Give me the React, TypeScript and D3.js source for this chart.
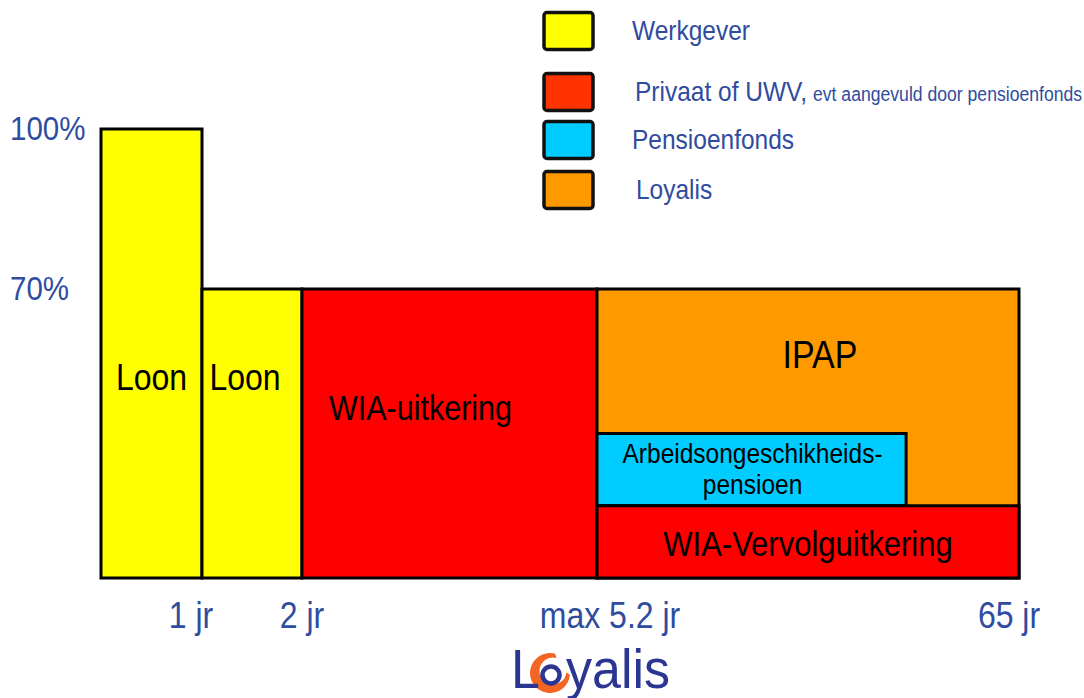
import React from "react";
import * as d3 from "d3";

// ---- data ----
const segLabels = ["Loon", "Loon", "WIA-uitkering", "IPAP", "Arbeidsongeschikheids-|pensioen", "WIA-Vervolguitkering"];
const segStart = [0, 1, 2, 5.2, 5.2, 5.2];
const segEnd = [1, 2, 5.2, 65, 49, 65];
const segLow = [0, 0, 0, 0, 17.5, 0];
const segHigh = [100, 70, 70, 70, 35, 17.5];
const segSource = ["Werkgever", "Werkgever", "Privaat", "Loyalis", "Pensioenfonds", "Privaat"];

const sources = ["Werkgever", "Privaat", "Pensioenfonds", "Loyalis"];
const sourceLabels = ["Werkgever", "Privaat of UWV,", "Pensioenfonds", "Loyalis"];
const sourceNote = ["", "evt aangevuld door pensioenfonds", "", ""];

const yTicks = [100, 70];
const yTickLabels = ["100%", "70%"];
const xTicks = [1, 2, 5.2, 65];
const xTickLabels = ["1 jr", "2 jr", "max 5.2 jr", "65 jr"];

// ---- styles / layout ----
const FONT = "'Liberation Sans', Arial, Helvetica, sans-serif";
const BLUE = "#2f4c9e";
const NAVY = "#2b3592";
const chartFill: Record<string, string> = {
  Werkgever: "#ffff00",
  Privaat: "#ff0000",
  Pensioenfonds: "#00ccff",
  Loyalis: "#ff9900",
};
const legendFill: Record<string, string> = {
  Werkgever: "#ffff00",
  Privaat: "#ff3300",
  Pensioenfonds: "#00ccff",
  Loyalis: "#ff9900",
};
// label placement per segment: horizontal offset from segment centre, baseline y (px), font size
const labelLayout = [
  { dx: 0, y: 390, size: 32 },
  { dx: -7, y: 390, size: 32 },
  { dx: -29, y: 420, size: 30.5 },
  { dx: 12, y: 368, size: 34 },
  { dx: 1, y: 463, size: 24.5, lineGap: 31 },
  { dx: 0, y: 556, size: 31 },
];
const legendRowY = [31, 92, 140, 190];
const legendTextX = [632, 635, 632, 636];
const xLabelDx = [-11, 0, 13, -10];
const SY = 1.14;

export default function App() {
  const x = d3.scaleLinear().domain([0, 1, 2, 5.2, 65]).range([101, 202, 302, 597, 1019]);
  const y = d3.scaleLinear().domain([0, 70, 100]).range([578, 289, 129]);

  const T = (props: {
    x: number;
    y: number;
    size: number;
    fill: string;
    anchor?: string;
    children: React.ReactNode;
  }) => (
    <text
      transform={`translate(${props.x},${props.y}) scale(1,${SY})`}
      fontSize={props.size}
      fill={props.fill}
      textAnchor={props.anchor || "start"}
      fontFamily={FONT}
    >
      {props.children}
    </text>
  );

  // Loyalis logo swirl
  const cx = 550, cy = 673;
  const rad = (a: number) => (a * Math.PI) / 180;
  const ro = 20, ri = 13.5, icx = 553, icy = 671;
  const a1 = -75, a2 = 5;
  const p = d3.path();
  p.moveTo(cx + ro * Math.cos(rad(a1)), cy + ro * Math.sin(rad(a1)));
  p.arc(cx, cy, ro, rad(a1), rad(a2), true);
  p.lineTo(icx + ri * Math.cos(rad(a2)), icy + ri * Math.sin(rad(a2)));
  p.arc(icx, icy, ri, rad(a2), rad(a1), false);
  p.closePath();

  return (
    <svg
      width={1084}
      height={698}
      style={{ position: "absolute", left: 0, top: 0, background: "#fff" }}
      fontFamily={FONT}
    >
      {/* segments */}
      {segLabels.map((lab, i) => (
        <rect
          key={"r" + i}
          x={x(segStart[i])}
          y={y(segHigh[i])}
          width={x(segEnd[i]) - x(segStart[i])}
          height={y(segLow[i]) - y(segHigh[i])}
          fill={chartFill[segSource[i]]}
          stroke="#000"
          strokeWidth={3}
        />
      ))}
      {segLabels.map((lab, i) => {
        const L = labelLayout[i];
        const mid = (x(segStart[i]) + x(segEnd[i])) / 2 + L.dx;
        const lines = lab.split("|");
        return lines.map((ln, j) => (
          <T key={"l" + i + "_" + j} x={mid} y={L.y + j * (L.lineGap || 0)} size={L.size} fill="#000" anchor="middle">
            {ln}
          </T>
        ));
      })}

      {/* y labels */}
      {yTicks.map((v, i) => (
        <T key={"y" + i} x={10} y={y(v) + 11} size={29.5} fill={BLUE}>
          {yTickLabels[i]}
        </T>
      ))}
      {/* x labels */}
      {xTicks.map((v, i) => (
        <T key={"x" + i} x={x(v) + xLabelDx[i]} y={628} size={32} fill={BLUE} anchor="middle">
          {xTickLabels[i]}
        </T>
      ))}

      {/* legend */}
      {sources.map((s, i) => (
        <g key={"lg" + i}>
          <rect
            x={544}
            y={legendRowY[i] - 18.5}
            width={49}
            height={37}
            rx={3}
            fill={legendFill[s]}
            stroke="#111"
            strokeWidth={3.5}
          />
          <text
            transform={`translate(${legendTextX[i]},${legendRowY[i] + 9}) scale(1,1.1)`}
            fontSize={24.5}
            fill={BLUE}
            fontFamily={FONT}
          >
            {sourceLabels[i]}
            {sourceNote[i] ? (
              <tspan fontSize={17.6} dx={6}>
                {sourceNote[i]}
              </tspan>
            ) : null}
          </text>
        </g>
      ))}

      {/* Loyalis logo */}
      <g>
        <path d={p.toString()} fill="#f26522" />
        <circle cx={551} cy={675} r={8.5} fill="none" stroke={NAVY} strokeWidth={4.5} />
        <text transform={`translate(511,688) scale(1,1.08)`} fontSize={52} fill={NAVY} fontFamily={FONT}>
          L
        </text>
        <text transform={`translate(566,688) scale(1,1.08)`} fontSize={52} fill={NAVY} fontFamily={FONT}>
          yalis
        </text>
      </g>
    </svg>
  );
}
